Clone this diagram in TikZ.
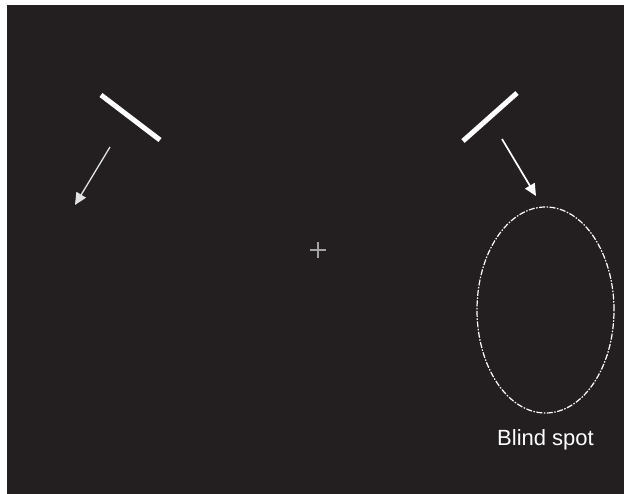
\documentclass[tikz,border=0pt]{standalone}
\usepackage{fontspec}
\setmainfont{Liberation Sans}
\usepackage{tikz}
\usetikzlibrary{arrows.meta,positioning,shapes.geometric}
\definecolor{board}{HTML}{231F20}
\definecolor{chalk}{HTML}{FFFFFF}
\definecolor{pale}{HTML}{E2E2E2}
\definecolor{fixgray}{HTML}{A3A3A3}
\tikzset{
    every picture/.style={line join=round},
    mirror/.style={draw=chalk,line width=5pt,line cap=butt},
    beam/.style={-{Triangle[length=12pt,width=11pt]},draw=pale,line width=1.3pt},
    beamhi/.style={beam,draw=chalk,line width=1.7pt},
    spotzone/.style={draw=chalk,ellipse,line width=1.2pt,
      dash pattern=on 6pt off 1.5pt on 1.5pt off 1.5pt,
      minimum width=137pt,minimum height=206pt,inner sep=0pt,outer sep=0pt},
    spotlabel/.style={text=chalk,font=\fontsize{22}{26}\selectfont,inner sep=0pt},
    fixmark/.style={draw=fixgray,line width=2.3pt}
}
\begin{document}
\begin{tikzpicture}[x=1pt,y=-1pt]
  \useasboundingbox (0,0) rectangle (624,494);
  \fill[board] (7,5) rectangle (624,494);
  % left mirror and its reflected ray
  \coordinate (ml1) at (101,95);
  \coordinate (ml2) at (160,140);
  \draw[mirror] (ml1)--(ml2);
  \coordinate (rl0) at (110,147);
  \coordinate (rl1) at (75,205);
  \draw[beam] (rl0)--(rl1);
  % right mirror, ray into the blind spot
  \coordinate (mr1) at (517,93);
  \coordinate (mr2) at (463,141);
  \draw[mirror] (mr1)--(mr2);
  \node[spotzone] (blind) at (545.5,310) {};
  \coordinate (rr0) at (502,139);
  \coordinate (rr1) at (536,196);
  \draw[beamhi] (rr0)--(rr1);
  \node[spotlabel,below=16pt of blind] (blindtxt) {Blind spot};
  % fixation cross
  \coordinate (fix) at (318,250);
  \draw[fixmark] (fix) ++(-8,0) -- ++(16,0);
  \draw[fixmark] (fix) ++(0,-8) -- ++(0,16);
\end{tikzpicture}
\end{document}
